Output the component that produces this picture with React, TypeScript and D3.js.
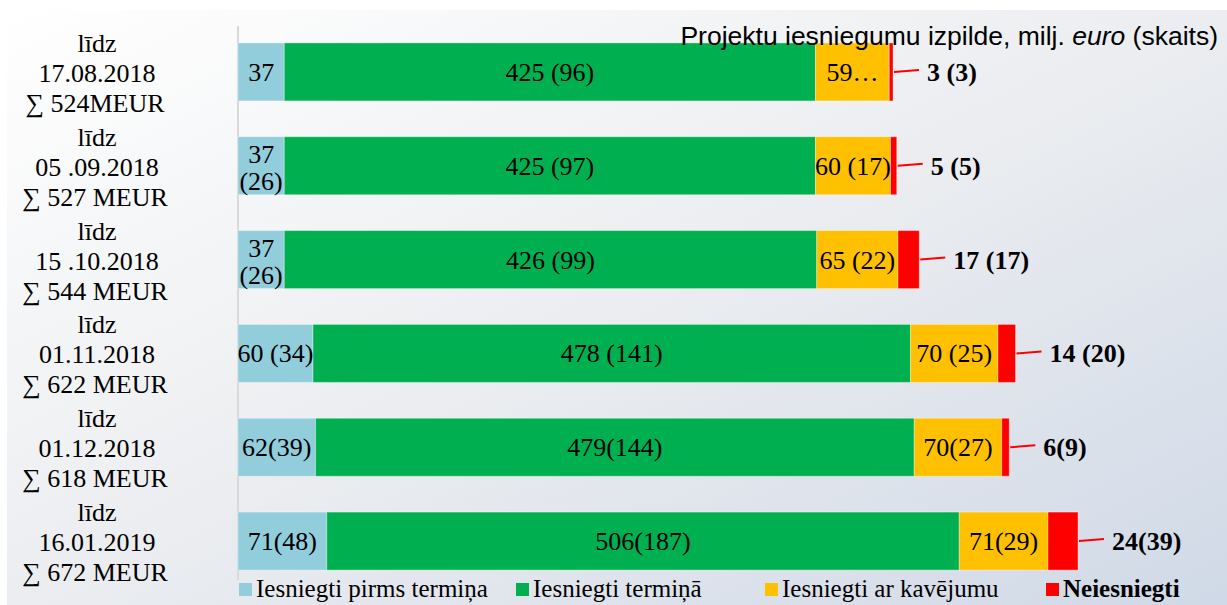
import React from "react";
import * as d3 from "d3";

const W = 1227;
const H = 605;

const dateLines = ["17.08.2018", "05 .09.2018", "15 .10.2018", "01.11.2018", "01.12.2018", "16.01.2019"];
const sumLines = ["∑ 524MEUR", "∑ 527 MEUR", "∑ 544 MEUR", "∑ 622 MEUR", "∑ 618 MEUR", "∑ 672 MEUR"];
const categories = dateLines.map((d) => "līdz " + d);

const series = ["Iesniegti pirms termiņa", "Iesniegti termiņā", "Iesniegti ar kavējumu", "Neiesniegti"];
const colors = ["#92CDDC", "#00B050", "#FFC000", "#FF0000"];

const beforeDeadline = [37, 37, 37, 60, 62, 71];
const onDeadline = [425, 425, 426, 478, 479, 506];
const late = [59, 60, 65, 70, 70, 71];
const notSubmitted = [3, 5, 17, 14, 6, 24];

const beforeLabels = ["37", "37\n(26)", "37\n(26)", "60 (34)", "62(39)", "71(48)"];
const onLabels = ["425 (96)", "425 (97)", "426 (99)", "478 (141)", "479(144)", "506(187)"];
const lateLabels = ["59…", "60 (17)", "65 (22)", "70 (25)", "70(27)", "71(29)"];
const notLabels = ["3 (3)", "5 (5)", "17 (17)", "14 (20)", "6(9)", "24(39)"];

const values = [beforeDeadline, onDeadline, late, notSubmitted];
const insideLabels = [beforeLabels, onLabels, lateLabels];

const SERIF = "'Liberation Serif', 'Times New Roman', serif";
const SANS = "'Liberation Sans', Arial, sans-serif";

export default function App() {
  const x0 = 238;
  const x = d3.scaleLinear().domain([0, 672]).range([x0, x0 + 672 * 1.25]);
  const y = d3
    .scaleBand<string>()
    .domain(categories)
    .range([25, 588])
    .paddingInner(0.382)
    .paddingOuter(0.191);
  const bw = y.bandwidth();

  const stackData = categories.map((c, i) => {
    let acc = 0;
    return values.map((s) => {
      const start = acc;
      acc += s[i];
      return [start, acc];
    });
  });

  const legendX = [239, 516, 765, 1046];

  return (
    <>
      <style>{`body{margin:0}`}</style>
      <svg width={W} height={H} style={{ display: "block" }}>
        <defs>
          <linearGradient id="bg" x1="0" y1="0" x2="1" y2="1">
            <stop offset="0" stopColor="#ffffff" />
            <stop offset="0.5" stopColor="#ebedf0" />
            <stop offset="1" stopColor="#d0d9e7" />
          </linearGradient>
        </defs>
        <rect x={0} y={0} width={W} height={H} fill="#ffffff" />
        <rect x={7} y={10} width={W - 7} height={H - 10} fill="url(#bg)" />

        {/* axis line */}
        <line x1={x0} x2={x0} y1={26} y2={580} stroke="#d9d9d9" strokeWidth={2} />

        {/* category labels */}
        {categories.map((c, i) => {
          const cy = (y(c) as number) + bw / 2;
          return (
            <text key={c} x={95} textAnchor="middle" fontFamily={SERIF} fontSize={26} fill="#000">
              <tspan x={97} y={cy - 20}>līdz</tspan>
              <tspan x={97} y={cy + 10}>{dateLines[i]}</tspan>
              <tspan x={95} y={cy + 40}>{sumLines[i]}</tspan>
            </text>
          );
        })}

        {/* bars */}
        {categories.map((c, i) => {
          const top = y(c) as number;
          const cy = top + bw / 2;
          return (
            <g key={c}>
              {stackData[i].map(([a, b], k) => (
                <rect
                  key={k}
                  x={x(a)}
                  y={top}
                  width={x(b) - x(a)}
                  height={bw}
                  fill={colors[k]}
                  stroke="#ffffff"
                  strokeOpacity={0.35}
                  strokeWidth={1}
                />
              ))}
              {insideLabels.map((labs, k) => {
                const [a, b] = stackData[i][k];
                const mx = (x(a) + x(b)) / 2;
                const lines = labs[i].split("\n");
                if (lines.length === 1) {
                  return (
                    <text key={k} x={mx} y={cy + 9} textAnchor="middle" fontFamily={SERIF} fontSize={26} fill="#000">
                      {lines[0]}
                    </text>
                  );
                }
                return (
                  <text key={k} textAnchor="middle" fontFamily={SERIF} fontSize={26} fill="#000">
                    <tspan x={mx} y={cy - 3}>{lines[0]}</tspan>
                    <tspan x={mx} y={cy + 24}>{lines[1]}</tspan>
                  </text>
                );
              })}
              {(() => {
                const end = x(stackData[i][3][1]);
                return (
                  <g>
                    <line x1={end + 1} x2={end + 26} y1={cy} y2={cy - 2} stroke="#FF0000" strokeWidth={2} />
                    <text
                      x={end + 34}
                      y={cy + 9}
                      fontFamily={SERIF}
                      fontSize={26}
                      fontWeight="bold"
                      fill="#000"
                    >
                      {notLabels[i]}
                    </text>
                  </g>
                );
              })()}
            </g>
          );
        })}

        {/* title (drawn over the bars) */}
        <text x={1218} y={45} textAnchor="end" fontFamily={SANS} fontSize={26.5} fill="#000">
          Projektu iesniegumu izpilde, milj. <tspan fontStyle="italic">euro</tspan> (skaits)
        </text>

        {/* legend */}
        {series.map((s, k) => (
          <g key={s}>
            <rect x={legendX[k]} y={583} width={13} height={13} fill={colors[k]} />
            <text
              x={legendX[k] + 17}
              y={597}
              fontFamily={SERIF}
              fontSize={25}
              fontWeight={k === 3 ? "bold" : "normal"}
              fill="#000"
            >
              {s}
            </text>
          </g>
        ))}
      </svg>
    </>
  );
}
